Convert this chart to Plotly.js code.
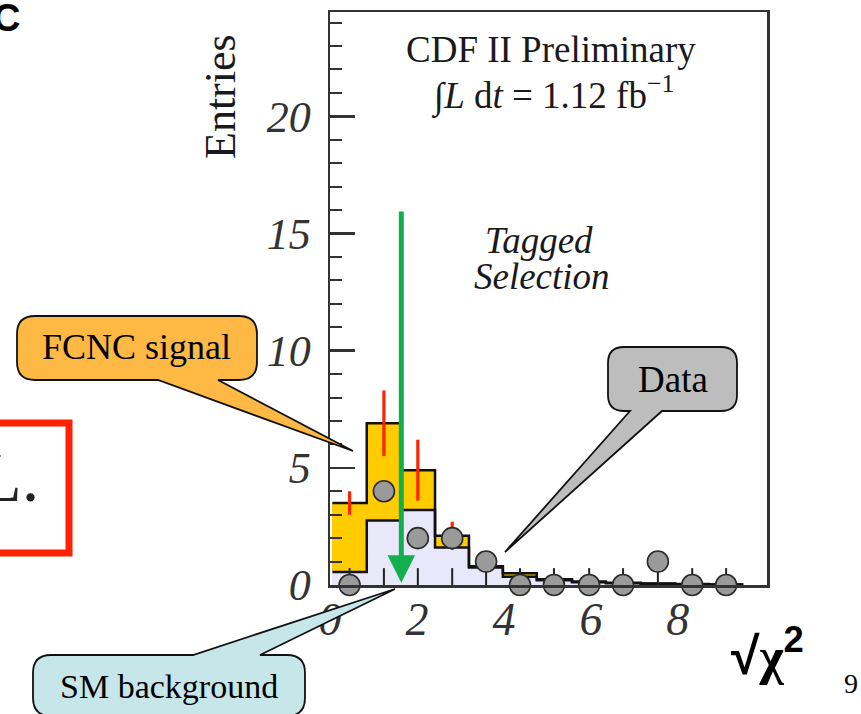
<!DOCTYPE html>
<html>
<head>
<meta charset="utf-8">
<script src="https://cdn.plot.ly/plotly-3.0.1.min.js"></script>
<style>html,body{margin:0;padding:0;background:#fff;}#chart{width:861px;height:714px;}</style>
</head>
<body>
<div id="chart"></div>
<script>
// ---------- data ----------
const binCenters   = [0.45, 1.24, 2.02, 2.81, 3.59, 4.37, 5.15, 5.96, 6.74, 7.54, 8.33, 9.11];
const binWidth     = 0.789;
const smBackground = [0.55, 2.75, 3.2, 1.6, 0.75, 0.35, 0.2, 0.12, 0.08, 0.05, 0.03, 0.02];
const totalExpect  = [3.5, 6.9, 4.9, 2.1, 0.8, 0.5, 0.25, 0.15, 0.1, 0.06, 0.04, 0.02];
const totalError   = [0.5, 1.4, 1.3, 0.6, 0, 0, 0, 0, 0, 0, 0, 0];
const dataCounts   = [0, 4, 2, 2, 1, 0, 0, 0, 0, 1, 0, 0];
const xTickVals    = [0, 2, 4, 6, 8];
const yTickVals    = [0, 5, 10, 15, 20];
const cutValue     = 1.64;   // green arrow position
const cutArrowTop  = 16;
const binTickLen   = 0.72;   // height of the small bin marks on the x axis

// ---------- derived ----------
const fcncSignal = totalExpect.map((t, i) => t - smBackground[i]);
function stepLine(vals) {
  const xs = binCenters.map(c => c - binWidth / 2);
  xs.push(binCenters[binCenters.length - 1] + binWidth / 2);
  const ys = vals.slice();
  ys.push(vals[vals.length - 1]);
  return {x: xs, y: ys};
}
const bkgStep = stepLine(smBackground);
const totStep = stepLine(totalExpect);

// pixel -> paper helpers (plot area: x 330..767, y 12..585)
const L = 330, W = 437, B = 585, H = 573;
const px = v => (v - L) / W;
const py = v => (B - v) / H;

function callout(x0, y0, x1, y1, r, tail) {
  const P = (x, y) => px(x) + ',' + py(y);
  let d = 'M' + P(x0 + r, y0);
  if (tail.edge === 'top') d += ' L' + P(tail.a, y0) + ' L' + P(tail.tip[0], tail.tip[1]) + ' L' + P(tail.b, y0);
  d += ' L' + P(x1 - r, y0) + ' Q' + P(x1, y0) + ' ' + P(x1, y0 + r);
  d += ' L' + P(x1, y1 - r) + ' Q' + P(x1, y1) + ' ' + P(x1 - r, y1);
  if (tail.edge === 'bottom') d += ' L' + P(tail.b, y1) + ' L' + P(tail.tip[0], tail.tip[1]) + ' L' + P(tail.a, y1);
  d += ' L' + P(x0 + r, y1) + ' Q' + P(x0, y1) + ' ' + P(x0, y1 - r);
  d += ' L' + P(x0, y0 + r) + ' Q' + P(x0, y0) + ' ' + P(x0 + r, y0) + ' Z';
  return d;
}

const serif = 'Liberation Serif, Times New Roman, serif';
const sans = 'Liberation Sans, Arial, sans-serif';

const traces = [
  {type: 'bar', name: 'SM background', x: binCenters, y: smBackground, width: binWidth,
   marker: {color: '#E8E8FA', line: {width: 0}}, hoverinfo: 'skip'},
  {type: 'bar', name: 'FCNC signal', x: binCenters, y: fcncSignal, width: binWidth,
   marker: {color: '#FFCC00', line: {width: 0}}, hoverinfo: 'skip'},
  {type: 'scatter', mode: 'lines', x: bkgStep.x, y: bkgStep.y, line: {shape: 'hv', color: '#111', width: 2.5}, hoverinfo: 'skip'},
  {type: 'scatter', mode: 'lines', x: totStep.x, y: totStep.y, line: {shape: 'hv', color: '#111', width: 2.5}, hoverinfo: 'skip'},
  {type: 'scatter', mode: 'markers', x: binCenters, y: binCenters.map(() => 0),
   marker: {size: 1, color: 'rgba(0,0,0,0)'},
   error_y: {type: 'data', symmetric: false, array: binCenters.map(() => binTickLen), arrayminus: binCenters.map(() => 0),
     color: '#222', thickness: 2, width: 0}, hoverinfo: 'skip'},
  {type: 'scatter', mode: 'markers', x: binCenters, y: totalExpect,
   marker: {size: 1, color: 'rgba(0,0,0,0)'},
   error_y: {type: 'data', array: totalError, color: '#FF2200', thickness: 3.2, width: 0}, hoverinfo: 'skip'},
  {type: 'scatter', mode: 'markers', name: 'Data', x: binCenters, y: dataCounts, cliponaxis: false,
   marker: {symbol: 'circle', size: 21, color: '#9A9A9A', line: {color: '#2a2a2a', width: 1.6}}}
];

const shapes = [
  {type: 'path', xref: 'paper', yref: 'paper', layer: 'above',
   path: callout(17, 316, 257, 380, 18, {edge: 'bottom', a: 158, b: 218, tip: [353, 451]}),
   fillcolor: '#FDB944', line: {color: '#111', width: 1.8}},
  {type: 'path', xref: 'paper', yref: 'paper', layer: 'above',
   path: callout(33, 655, 305, 716, 18, {edge: 'top', a: 193, b: 260, tip: [395, 589]}),
   fillcolor: '#C6E6EA', line: {color: '#111', width: 1.8}},
  {type: 'path', xref: 'paper', yref: 'paper', layer: 'above',
   path: callout(608, 347, 737, 411, 16, {edge: 'bottom', a: 630, b: 662, tip: [505, 552]}),
   fillcolor: '#BDBDBD', line: {color: '#111', width: 1.8}},
  {type: 'rect', xref: 'paper', yref: 'paper', layer: 'above',
   x0: px(-20), x1: px(69), y0: py(423), y1: py(553),
   line: {color: '#FF2200', width: 7}, fillcolor: 'rgba(0,0,0,0)'}
];

function txt(text, x, y, size, opts) {
  return Object.assign({text: text, xref: 'paper', yref: 'paper', x: px(x), y: py(y),
    xanchor: 'center', yanchor: 'middle', showarrow: false,
    font: {family: serif, size: size, color: '#1a1a1a'}}, opts || {});
}

const annotations = [
  {x: cutValue, y: 0.1, ax: cutValue, ay: cutArrowTop, xref: 'x', yref: 'y', axref: 'x', ayref: 'y',
   text: '', showarrow: true, arrowhead: 2, arrowsize: 1.1, arrowwidth: 5, arrowcolor: '#12B04C'},
  txt('CDF II Preliminary', 551, 49, 37),
  txt('\u222B<i>L</i> d<i>t</i> = 1.12 fb<sup>\u22121</sup>', 553, 94, 37),
  txt('Tagged', 539, 241, 37, {font: {family: serif, size: 37, color: '#1a1a1a', style: 'italic'}}),
  txt('Selection', 542, 276, 37, {font: {family: serif, size: 37, color: '#1a1a1a', style: 'italic'}}),
  txt('Entries', 220, 97, 44, {textangle: -90}),
  txt('FCNC signal', 136, 347, 36, {font: {family: serif, size: 36, color: '#000'}}),
  txt('SM background', 169, 686, 34, {font: {family: serif, size: 34, color: '#000'}}),
  txt('Data', 673, 379, 37, {font: {family: serif, size: 37, color: '#000'}}),
  txt('L.', 41, 477, 70, {xanchor: 'right', font: {family: serif, size: 70, color: '#222'}}),
  txt('\u221A<span style="font-family:Liberation Serif">\u03C7</span><sup>2</sup>', 767, 652, 52,
      {font: {family: sans, size: 52, color: '#000', weight: 'bold'}}),
  txt('9', 851, 683, 28, {font: {family: serif, size: 28, color: '#000'}}),
  txt('C', 22, 18, 38, {xanchor: 'right', font: {family: sans, size: 38, color: '#000', weight: 'bold'}})
];

const layout = {
  width: 861, height: 714,
  margin: {l: 330, r: 94, t: 12, b: 129, pad: 0},
  paper_bgcolor: '#fff', plot_bgcolor: '#fff',
  showlegend: false, barmode: 'stack', bargap: 0,
  xaxis: {range: [0, 10.05], tickvals: xTickVals, ticks: '', showgrid: false, zeroline: false,
    showline: true, mirror: true, linecolor: '#333', linewidth: 2.5,
    ticklabelstandoff: -8,
    tickfont: {family: serif, size: 46, color: '#333', style: 'italic'}},
  yaxis: {range: [0, 24.45], tickvals: yTickVals, ticks: 'inside', ticklen: 25, tickwidth: 2.5, tickcolor: '#333',
    minor: {dtick: 1, ticks: 'inside', ticklen: 12, tickwidth: 2, tickcolor: '#333'},
    showgrid: false, zeroline: false, showline: true, mirror: true, linecolor: '#333', linewidth: 2.5,
    ticklabelstandoff: 8,
    tickfont: {family: serif, size: 44, color: '#333', style: 'italic'}},
  shapes: shapes,
  annotations: annotations
};

Plotly.newPlot('chart', traces, layout, {staticPlot: true, displayModeBar: false});
</script>
</body>
</html>
